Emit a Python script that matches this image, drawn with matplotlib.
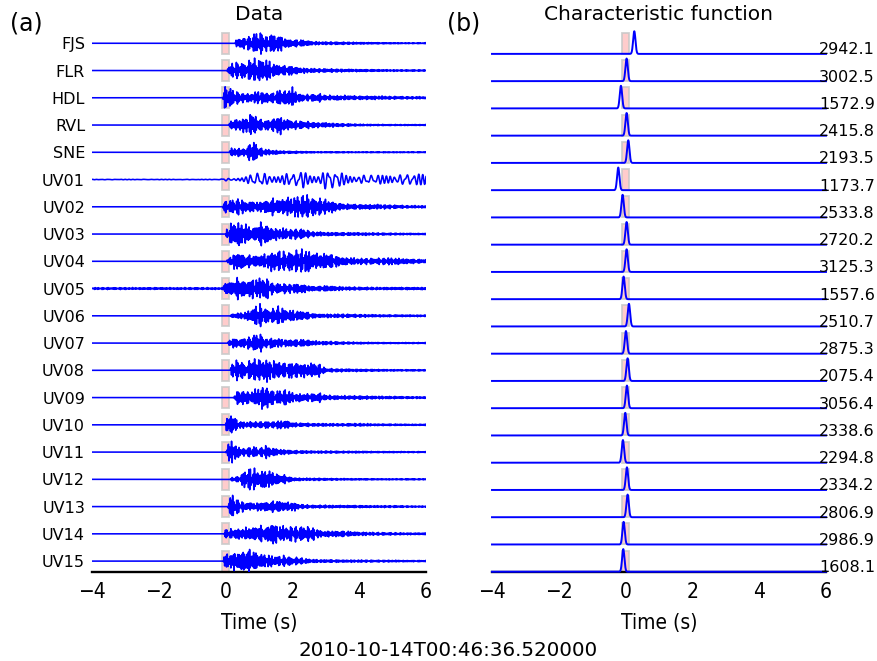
import numpy as np
import matplotlib
matplotlib.use("Agg")
import matplotlib.pyplot as plt
from matplotlib import font_manager
from matplotlib.patches import Rectangle

# ---------------- data ----------------
stations = ["FJS", "FLR", "HDL", "RVL", "SNE", "UV01", "UV02", "UV03", "UV04", "UV05",
            "UV06", "UV07", "UV08", "UV09", "UV10", "UV11", "UV12", "UV13", "UV14", "UV15"]

cf_values = ["2942.1", "3002.5", "1572.9", "2415.8", "2193.5", "1173.7", "2533.8", "2720.2",
             "3125.3", "1557.6", "2510.7", "2875.3", "2075.4", "3056.4", "2338.6", "2294.8",
             "2334.2", "2806.9", "2986.9", "1608.1"]

# onset time of each trace (s)
onset = [0.28, 0.03, -0.10, 0.08, 0.10, -0.17, -0.10, 0.00, 0.03, -0.09,
         0.13, 0.05, 0.13, 0.23, 0.00, 0.00, 0.13, 0.06, -0.05, -0.07]

# characteristic-function peak time (s)
cf_peak = [0.26, 0.03, -0.14, 0.03, 0.08, -0.22, -0.09, 0.03, 0.03, -0.06,
           0.10, 0.01, 0.06, 0.04, -0.01, -0.08, 0.04, 0.06, -0.06, -0.07]

# pre-event noise level (relative)
pre_noise = [0, 0, 0, 0, 0, 0.02, 0, 0, 0, 0.08, 0, 0, 0, 0, 0, 0, 0, 0, 0, 0]

# envelope sampling times (s) and relative envelope per station
env_t = [-0.2, 0.0, 0.2, 0.4, 0.6, 0.8, 1.0, 1.2, 1.4, 1.6, 1.8, 2.0, 2.2, 2.4, 2.6, 2.8,
         3.0, 3.5, 4.0, 4.5, 5.0, 5.5, 6.0]
env_FJS  = [0, 0, 0.05, 0.45, 0.45, 0.7, 1.0, 0.6, 0.8, 0.7, 0.4, 0.3, 0.3, 0.25, 0.15, 0.12, 0.12, 0.1, 0.08, 0.06, 0.05, 0.04, 0.04]
env_FLR  = [0, 0.05, 0.6, 0.7, 0.6, 1.0, 0.9, 0.95, 0.6, 0.45, 0.4, 0.4, 0.25, 0.2, 0.18, 0.15, 0.15, 0.12, 0.1, 0.08, 0.07, 0.06, 0.06]
env_HDL  = [0, 1.0, 0.7, 0.45, 0.35, 0.4, 0.55, 0.45, 0.4, 0.65, 0.6, 0.8, 0.35, 0.25, 0.3, 0.35, 0.2, 0.2, 0.15, 0.15, 0.12, 0.1, 0.1]
env_RVL  = [0, 0.02, 0.4, 0.5, 0.6, 1.0, 0.5, 0.4, 0.5, 0.8, 0.5, 0.35, 0.35, 0.3, 0.25, 0.2, 0.2, 0.12, 0.08, 0.06, 0.05, 0.05, 0.05]
env_SNE  = [0, 0.02, 0.35, 0.35, 0.3, 1.0, 0.4, 0.25, 0.2, 0.15, 0.1, 0.1, 0.08, 0.07, 0.06, 0.05, 0.05, 0.05, 0.04, 0.04, 0.04, 0.04, 0.04]
env_UV01 = [0.05, 0.12, 0.12, 0.15, 0.25, 0.55, 0.6, 0.55, 0.6, 0.45, 0.55, 0.5, 0.75, 0.8, 0.7, 0.55, 0.9, 0.6, 0.4, 0.4, 0.45, 0.5, 0.5]
env_UV02 = [0, 0.5, 0.55, 0.7, 0.45, 0.45, 0.4, 0.55, 0.7, 0.6, 0.75, 0.8, 0.9, 1.0, 0.75, 0.7, 0.6, 0.25, 0.2, 0.2, 0.15, 0.1, 0.1]
env_UV03 = [0, 0.3, 1.0, 1.0, 0.85, 0.45, 0.95, 0.9, 0.5, 0.5, 0.45, 0.4, 0.45, 0.35, 0.2, 0.18, 0.15, 0.13, 0.12, 0.1, 0.08, 0.07, 0.06]
env_UV04 = [0, 0.05, 0.55, 0.8, 0.5, 0.5, 0.5, 0.6, 0.8, 0.85, 0.75, 0.85, 0.9, 1.0, 0.75, 0.6, 0.7, 0.35, 0.25, 0.25, 0.3, 0.2, 0.15]
env_UV05 = [0.08, 0.55, 0.6, 0.95, 0.6, 0.85, 0.8, 1.0, 0.45, 0.4, 0.4, 0.35, 0.45, 0.3, 0.2, 0.2, 0.25, 0.15, 0.12, 0.1, 0.1, 0.1, 0.1]
env_UV06 = [0, 0.02, 0.15, 0.25, 0.3, 0.6, 1.0, 0.6, 0.55, 0.8, 0.5, 0.45, 0.4, 0.35, 0.2, 0.15, 0.15, 0.15, 0.12, 0.1, 0.08, 0.08, 0.07]
env_UV07 = [0, 0.05, 0.4, 0.35, 0.4, 0.6, 0.85, 0.35, 0.45, 0.35, 0.3, 0.3, 0.3, 0.3, 0.2, 0.15, 0.15, 0.1, 0.08, 0.06, 0.05, 0.05, 0.05]
env_UV08 = [0, 0.02, 0.6, 0.95, 0.45, 1.0, 0.9, 0.95, 0.8, 0.7, 0.6, 0.7, 0.6, 0.55, 0.6, 0.55, 0.15, 0.12, 0.1, 0.08, 0.07, 0.06, 0.06]
env_UV09 = [0, 0, 0.1, 0.65, 0.55, 0.5, 0.85, 1.0, 0.6, 0.55, 0.7, 0.4, 0.35, 0.3, 0.35, 0.4, 0.2, 0.15, 0.15, 0.12, 0.1, 0.08, 0.08]
env_UV10 = [0, 0.8, 0.8, 0.3, 0.25, 0.25, 0.25, 0.3, 0.25, 0.35, 0.35, 0.2, 0.15, 0.15, 0.12, 0.12, 0.12, 0.1, 0.12, 0.08, 0.07, 0.06, 0.06]
env_UV11 = [0, 0.45, 1.0, 0.4, 0.3, 0.5, 0.3, 0.55, 0.35, 0.25, 0.2, 0.15, 0.12, 0.12, 0.1, 0.1, 0.1, 0.08, 0.08, 0.06, 0.06, 0.05, 0.05]
env_UV12 = [0, 0, 0.15, 0.25, 0.8, 1.0, 0.6, 0.85, 0.6, 0.4, 0.35, 0.15, 0.12, 0.1, 0.1, 0.1, 0.08, 0.07, 0.06, 0.05, 0.05, 0.05, 0.05]
env_UV13 = [0, 0.2, 1.0, 0.5, 0.35, 0.3, 0.35, 0.4, 0.45, 0.5, 0.35, 0.4, 0.2, 0.15, 0.12, 0.12, 0.12, 0.1, 0.1, 0.08, 0.08, 0.06, 0.06]
env_UV14 = [0, 0.35, 0.4, 0.45, 0.5, 0.55, 0.7, 0.55, 1.0, 0.65, 0.6, 0.65, 0.6, 0.6, 0.55, 0.3, 0.25, 0.25, 0.15, 0.12, 0.1, 0.08, 0.08]
env_UV15 = [0, 0.6, 0.7, 0.75, 1.0, 0.95, 0.6, 0.55, 0.45, 0.4, 0.45, 0.3, 0.3, 0.2, 0.15, 0.12, 0.12, 0.1, 0.1, 0.08, 0.08, 0.06, 0.06]

envelopes = [env_FJS, env_FLR, env_HDL, env_RVL, env_SNE, env_UV01, env_UV02, env_UV03,
             env_UV04, env_UV05, env_UV06, env_UV07, env_UV08, env_UV09, env_UV10,
             env_UV11, env_UV12, env_UV13, env_UV14, env_UV15]

x_ticks = [-4, -2, 0, 2, 4, 6]
origin_time = "2010-10-14T00:46:36.520000"

# ---------------- fonts ----------------
def pick_condensed():
    try:
        f = font_manager.findfont(font_manager.FontProperties(family="DejaVu Sans", stretch="condensed"),
                                  fallback_to_default=False)
        if "ondensed" in f:
            return font_manager.FontProperties(fname=f)
    except Exception:
        pass
    return font_manager.FontProperties(family="DejaVu Sans")

cond = pick_condensed()

# ---------------- figure ----------------
fig = plt.figure(figsize=(8.78, 6.61), dpi=100)
W, H = 878, 661
top_px, bot_px = 31, 572
axL = fig.add_axes([92 / W, 1 - bot_px / H, (426 - 92) / W, (bot_px - top_px) / H])
axR = fig.add_axes([492 / W, 1 - bot_px / H, (826 - 492) / W, (bot_px - top_px) / H])

fs = 500.0
t = np.arange(-4, 6 + 1 / fs, 1 / fs)
amp_scale = 0.50
n = len(stations)

for i in range(n):
    off = -i
    env = np.interp(t, env_t, envelopes[i])
    taper = np.clip((t - onset[i]) / 0.03, 0, 1)
    env = np.maximum(env * taper, pre_noise[i])
    ph = 1.7 * (i + 1)
    if stations[i] == "UV01":
        car = np.sin(2 * np.pi * 6.5 * t + 2.5 * np.sin(2 * np.pi * 0.9 * t + ph))
        car = 0.7 * car + 0.3 * np.sin(2 * np.pi * 9.1 * t + ph)
        scale = 0.39
    else:
        car = (0.5 * np.sin(2 * np.pi * 24.0 * t + 3.0 * np.sin(2 * np.pi * 0.8 * t + ph))
               + 0.25 * np.sin(2 * np.pi * 31.3 * t + 2 * ph)
               + 0.15 * np.sin(2 * np.pi * 17.9 * t + 3 * ph)
               + 0.10 * np.sin(2 * np.pi * 42.1 * t + 5 * ph))
        scale = amp_scale
    y = off + scale * env * car
    axL.plot(t, y, color="#0000ff", lw=1.15, zorder=3)

    cf = np.exp(-0.5 * ((t - cf_peak[i]) / 0.035) ** 2)
    axR.plot(t, off - 0.39 + 0.83 * cf, color="#0000ff", lw=1.4, zorder=3, clip_on=False)
    axR.text(5.79, off - 0.24, cf_values[i], fontsize=11.5, ha="left", va="center", zorder=4)

    for ax in (axL, axR):
        ax.add_patch(Rectangle((-0.1, off - 0.385), 0.2, 0.77, facecolor="#ffc4c4",
                               edgecolor="#c8c8c8", lw=1.3, alpha=0.85, zorder=2))

for ax in (axL, axR):
    ax.set_xlim(-4, 6)
    ax.set_ylim(-(n - 1) - 0.4, 0.45)
    for s in ("top", "left", "right"):
        ax.spines[s].set_visible(False)
    ax.spines["bottom"].set_linewidth(1.7)
    ax.set_xticks(x_ticks)
    ax.set_xticklabels([f"\u2212{abs(v)}" if v < 0 else str(v) for v in x_ticks],
                       fontproperties=cond, fontsize=15)
    ax.tick_params(axis="x", length=0, pad=7)
    ax.set_xlabel("Time (s)", fontproperties=cond, fontsize=15, labelpad=8)

axL.set_yticks([-i for i in range(n)])
axL.set_yticklabels(stations, fontsize=11.5)
axL.tick_params(axis="y", length=0, pad=5)
axR.set_yticks([])

axL.set_title("Data", fontsize=14.5, pad=8)
axR.set_title("Characteristic function", fontsize=14.5, pad=8)

fig.text(10 / W, 1 - 23 / H, "(a)", fontsize=17, ha="left", va="center")
fig.text(447 / W, 1 - 23 / H, "(b)", fontsize=17, ha="left", va="center")
fig.text(448.5 / W, 1 - 650 / H, origin_time, fontsize=14.3, ha="center", va="center")

fig.savefig("out.png", dpi=100)
